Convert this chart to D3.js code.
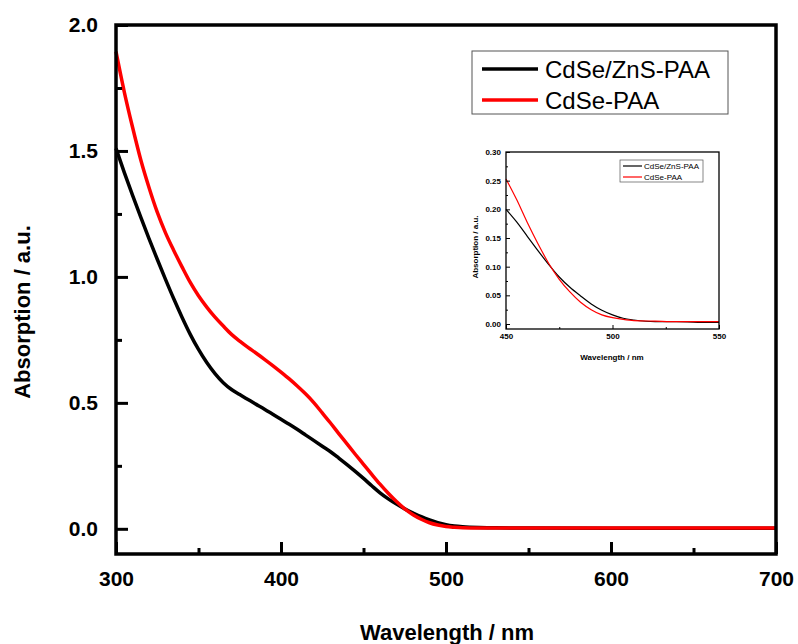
<!DOCTYPE html>
<meta charset="utf-8">
<head>
<style>
  body { margin: 0; background: #fff; }
  text { font-family: Arial, "Liberation Sans", sans-serif; }
</style>
</head>
<body>
<div id="chart"></div>
<script src="https://d3js.org/d3.v7.min.js"></script>
<script>
// main spectrum data (wavelength nm, absorption)
const wl = [300,305,310,315,320,325,330,335,340,345,350,355,360,365,370,375,380,385,390,395,
            400,405,410,415,420,425,430,435,440,445,450,455,460,465,470,475,480,485,490,495,
            500,505,510,520,530,550,600,650,700];
const shellAbs = [1.51,1.415,1.325,1.237,1.152,1.07,0.99,0.913,0.84,0.772,0.712,0.66,0.616,0.58,0.553,0.533,0.513,0.494,0.475,0.455,
            0.435,0.415,0.394,0.372,0.35,0.328,0.306,0.281,0.255,0.228,0.20,0.171,0.143,0.119,0.098,0.079,0.063,0.048,0.035,0.024,
            0.016,0.011,0.008,0.005,0.004,0.003,0.002,0.002,0.002];
const coreAbs = [1.894,1.735,1.595,1.465,1.355,1.257,1.175,1.105,1.04,0.978,0.925,0.88,0.84,0.805,0.772,0.745,0.72,0.697,0.673,0.648,
            0.622,0.595,0.566,0.535,0.50,0.46,0.42,0.378,0.337,0.296,0.256,0.216,0.177,0.141,0.108,0.079,0.056,0.038,0.024,0.015,
            0.009,0.006,0.004,0.003,0.003,0.003,0.003,0.003,0.003];

// inset (zoomed 450-550 nm)
const wlInset = [450,455,460,465,470,475,480,485,490,495,500,505,510,520,530,540,550];
const shellInset = [0.200,0.178,0.153,0.128,0.104,0.082,0.064,0.049,0.035,0.024,0.016,0.010,0.007,0.004,0.004,0.003,0.003];
const coreInset = [0.253,0.217,0.177,0.140,0.106,0.078,0.056,0.038,0.025,0.016,0.011,0.008,0.006,0.005,0.004,0.004,0.004];

const seriesNames = ['CdSe/ZnS-PAA', 'CdSe-PAA'];
const seriesColors = ['#000000', '#ff0000'];

const xTicks = [300,400,500,600,700];
const yTicks = [0,0.5,1.0,1.5,2.0];
const xTicksInset = [450,500,550];
const yTicksInset = [0,0.05,0.10,0.15,0.20,0.25,0.30];

let svg = d3.select('#chart').append('svg')
    .attr('width', 798).attr('height', 644);

// ---------- main plot ----------
let x = d3.scaleLinear().domain([300, 700]).range([116, 776]);
let y = d3.scaleLinear().domain([-0.1, 2.0]).range([554, 25]);

let main = svg.append('g');

[shellAbs, coreAbs].forEach((s, k) => {
    main.append('path')
        .datum(s)
        .attr('fill', 'none')
        .attr('stroke', seriesColors[k])
        .attr('stroke-width', 3.5)
        .attr('stroke-linejoin', 'round')
        .attr('d', d3.line().x((d, i) => x(wl[i])).y(d => y(d)).curve(d3.curveMonotoneX));
});

// frame
main.append('rect')
    .attr('x', 116).attr('y', 25).attr('width', 660).attr('height', 529)
    .attr('fill', 'none').attr('stroke', '#000').attr('stroke-width', 3.5);

// inward ticks
let xMinor = d3.range(350, 700, 100);
main.append('g').attr('transform', 'translate(0,554)')
    .call(d3.axisBottom(x).tickValues(xTicks).tickSize(-12).tickFormat(d3.format('d')).tickPadding(17))
    .call(g => g.select('.domain').remove())
    .call(g => g.selectAll('line').attr('stroke-width', 3))
    .call(g => g.selectAll('text').attr('font-size', 21).attr('font-weight', 'bold').attr('fill', '#000'));
main.append('g').attr('transform', 'translate(0,554)')
    .call(d3.axisBottom(x).tickValues(xMinor).tickSize(-6).tickFormat(''))
    .call(g => g.select('.domain').remove())
    .call(g => g.selectAll('line').attr('stroke-width', 3));

main.append('g').attr('transform', 'translate(116,0)')
    .call(d3.axisLeft(y).tickValues(yTicks).tickSize(-12).tickFormat(d3.format('.1f')).tickPadding(18))
    .call(g => g.select('.domain').remove())
    .call(g => g.selectAll('line').attr('stroke-width', 3))
    .call(g => g.selectAll('text').attr('font-size', 21).attr('font-weight', 'bold').attr('fill', '#000'));
main.append('g').attr('transform', 'translate(116,0)')
    .call(d3.axisLeft(y).tickValues([0.25,0.75,1.25,1.75]).tickSize(-6).tickFormat(''))
    .call(g => g.select('.domain').remove())
    .call(g => g.selectAll('line').attr('stroke-width', 3));

// axis titles
svg.append('text').attr('x', 447).attr('y', 640)
    .attr('text-anchor', 'middle').attr('font-size', 22).attr('font-weight', 'bold')
    .text('Wavelength / nm');
svg.append('text').attr('transform', 'translate(30,312) rotate(-90)')
    .attr('text-anchor', 'middle').attr('font-size', 22).attr('font-weight', 'bold')
    .text('Absorption / a.u.');

// legend
let leg = svg.append('g');
leg.append('rect').attr('x', 472).attr('y', 51).attr('width', 256).attr('height', 63)
    .attr('fill', '#fff').attr('stroke', '#555').attr('stroke-width', 1);
seriesNames.forEach((n, k) => {
    let ly = 69 + k * 31;
    leg.append('line').attr('x1', 482).attr('x2', 538).attr('y1', ly).attr('y2', ly)
        .attr('stroke', seriesColors[k]).attr('stroke-width', 3.5);
    leg.append('text').attr('x', 545).attr('y', ly + 8.5)
        .attr('font-size', 24).text(n);
});

// ---------- inset ----------
let xi = d3.scaleLinear().domain([450, 550]).range([506, 719]);
let yi = d3.scaleLinear().domain([-0.0087, 0.30]).range([329, 152]);
let inset = svg.append('g');

[shellInset, coreInset].forEach((s, k) => {
    inset.append('path')
        .datum(s)
        .attr('fill', 'none')
        .attr('stroke', seriesColors[k])
        .attr('stroke-width', 1.2)
        .attr('d', d3.line().x((d, i) => xi(wlInset[i])).y(d => yi(d)).curve(d3.curveMonotoneX));
});

inset.append('rect')
    .attr('x', 506).attr('y', 152).attr('width', 213).attr('height', 177)
    .attr('fill', 'none').attr('stroke', '#000').attr('stroke-width', 1.3);

inset.append('g').attr('transform', 'translate(0,329)')
    .call(d3.axisBottom(xi).tickValues(xTicksInset).tickSize(-4).tickFormat(d3.format('d')).tickPadding(4))
    .call(g => g.select('.domain').remove())
    .call(g => g.selectAll('text').attr('font-size', 8).attr('font-weight', 'bold').attr('fill', '#000'));
inset.append('g').attr('transform', 'translate(0,329)')
    .call(d3.axisBottom(xi).tickValues([475, 525]).tickSize(-2).tickFormat(''))
    .call(g => g.select('.domain').remove());
inset.append('g').attr('transform', 'translate(506,0)')
    .call(d3.axisLeft(yi).tickValues(yTicksInset).tickSize(-4).tickFormat(d3.format('.2f')).tickPadding(5))
    .call(g => g.select('.domain').remove())
    .call(g => g.selectAll('text').attr('font-size', 8).attr('font-weight', 'bold').attr('fill', '#000'));
inset.append('g').attr('transform', 'translate(506,0)')
    .call(d3.axisLeft(yi).tickValues(d3.range(0.025, 0.3, 0.05)).tickSize(-2).tickFormat(''))
    .call(g => g.select('.domain').remove());

svg.append('text').attr('x', 612).attr('y', 360)
    .attr('text-anchor', 'middle').attr('font-size', 8).attr('font-weight', 'bold')
    .text('Wavelength / nm');
svg.append('text').attr('transform', 'translate(478,247) rotate(-90)')
    .attr('text-anchor', 'middle').attr('font-size', 8).attr('font-weight', 'bold')
    .text('Absorption / a.u.');

let legi = svg.append('g');
legi.append('rect').attr('x', 620).attr('y', 160).attr('width', 83).attr('height', 22)
    .attr('fill', '#fff').attr('stroke', '#555').attr('stroke-width', 0.7);
seriesNames.forEach((n, k) => {
    let ly = 166 + k * 11;
    legi.append('line').attr('x1', 623).attr('x2', 642).attr('y1', ly).attr('y2', ly)
        .attr('stroke', seriesColors[k]).attr('stroke-width', 1.2);
    legi.append('text').attr('x', 644).attr('y', ly + 3)
        .attr('font-size', 8).text(n);
});
</script>
</body>
